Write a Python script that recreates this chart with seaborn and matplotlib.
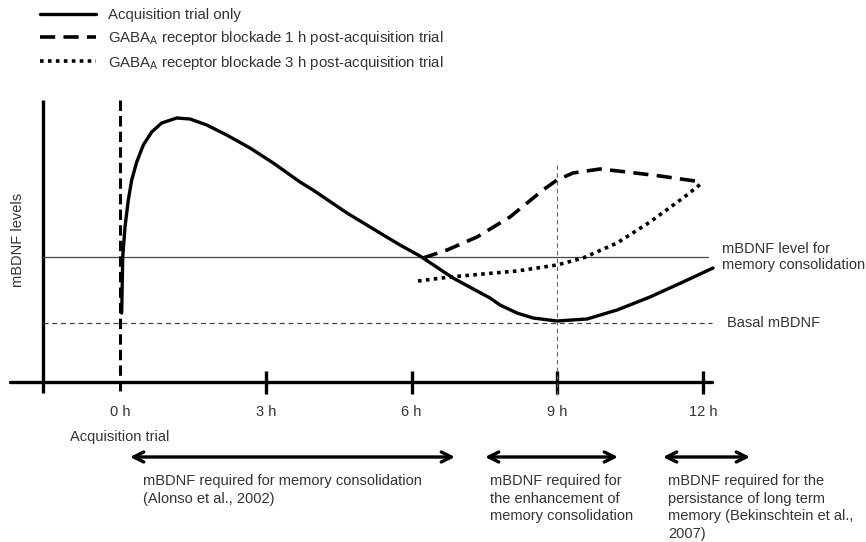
import numpy as np
import pandas as pd
import matplotlib
matplotlib.use("Agg")
import matplotlib.pyplot as plt
import seaborn as sns

# ------------------------------
# Values
# ------------------------------
# time in hours after the acquisition trial, mBDNF level in arbitrary units
acq_hours = [0.035, 0.056, 0.103, 0.171, 0.241, 0.344, 0.480, 0.652, 0.858, 1.167,
             1.441, 1.785, 2.196, 2.676, 3.155, 3.705, 3.973, 4.672, 5.352, 5.763,
             6.175, 6.854, 7.616, 7.822, 8.171, 8.501, 8.995, 9.613, 10.230, 10.909,
             11.588, 12.206]
acq_level = [69, 125, 155, 182, 202, 220, 237, 250, 259, 264,
             263, 257, 247, 234, 219, 200, 192, 169, 149, 137,
             126, 104, 84, 77, 69, 64, 61, 63, 72, 85,
             100, 114]

block1_hours = [6.237, 6.731, 7.348, 8.027, 8.706, 8.995, 9.324, 9.880, 10.436, 11.115, 11.980]
block1_level = [124, 132, 145, 165, 192, 202, 209, 213, 210, 206, 200]

block3_hours = [6.134, 6.793, 7.472, 8.171, 8.995, 9.530, 10.230, 10.909, 11.588, 11.980]
block3_level = [101, 105, 108, 111, 117, 124, 139, 160, 184, 199]

consolidation_level = 125
basal_level = 59
tick_hours = [0, 3, 6, 9, 12]
tick_labels = ["0 h", "3 h", "6 h", "9 h", "12 h"]

legend_labels = ["Acquisition trial only",
                 "GABA$_\\mathrm{A}$ receptor blockade 1 h post-acquisition trial",
                 "GABA$_\\mathrm{A}$ receptor blockade 3 h post-acquisition trial"]

# ------------------------------
# Figure setup
# ------------------------------
sns.set_theme(style="white")
plt.rcParams["font.family"] = ["Liberation Sans", "DejaVu Sans"]
plt.rcParams["mathtext.fontset"] = "custom"
plt.rcParams["mathtext.rm"] = "Liberation Sans"

W, H = 866, 542
fig = plt.figure(figsize=(W / 100, H / 100), dpi=100)
ax = fig.add_axes([0, 0, 1, 1])
px_per_h = (703 - 120) / 12
ax.set_xlim(-120 / px_per_h, (W - 120) / px_per_h)
ax.set_ylim(382 - H, 382)
ax.axis("off")

def px(x, y):
    # pixel position of the reference -> data coords
    return (x - 120) / px_per_h, 382 - y

txt = "#333333"
fs = 10.5

# axes drawn by hand
x0, _ = px(43, 0)
ax.plot([x0, x0], [282, -11], color="black", lw=2.4, solid_capstyle="butt")
ax.plot([px(10, 0)[0], px(712, 0)[0]], [0, 0], color="black", lw=2.4)
for h in tick_hours[1:]:
    ax.plot([h, h], [11, -12], color="black", lw=2.4, solid_capstyle="butt")

# reference levels
ax.plot([x0, px(708, 0)[0]], [consolidation_level] * 2, color="#444444", lw=0.9)
ax.plot([x0, px(712, 0)[0]], [basal_level] * 2, color="#444444", lw=0.9,
        linestyle=(0, (4, 3)))
ax.plot([9, 9], [217, -13], color="#666666", lw=0.8, linestyle=(0, (4, 3)))
ax.plot([0, 0], [282, -10], color="black", lw=2.2, linestyle=(0, (3.4, 1.7)))

# curves
acq = pd.DataFrame({"hours": acq_hours, "level": acq_level})
b1 = pd.DataFrame({"hours": block1_hours, "level": block1_level})
b3 = pd.DataFrame({"hours": block3_hours, "level": block3_level})
sns.lineplot(data=acq, x="hours", y="level", ax=ax, color="black", lw=2.4,
             sort=False, label=legend_labels[0])
sns.lineplot(data=b1, x="hours", y="level", ax=ax, color="black", lw=2.6,
             sort=False, label=legend_labels[1], linestyle=(0, (4.2, 2.3)))
sns.lineplot(data=b3, x="hours", y="level", ax=ax, color="black", lw=2.6,
             sort=False, label=legend_labels[2], linestyle=(0, (1, 1.2)))

leg = ax.legend(loc="upper left", bbox_to_anchor=(40 / W, 1 - 8 / H), frameon=False,
                fontsize=10.8, handlelength=3.7, handletextpad=0.85, labelspacing=0.45,
                borderpad=0, borderaxespad=0)
for t in leg.get_texts():
    t.set_color(txt)

# tick labels
for h, lab in zip(tick_hours, tick_labels):
    ax.text(h, 382 - 412, lab, ha="center", va="center", fontsize=fs, color=txt)

ax.text(*px(18, 240), "mBDNF levels", rotation=90, ha="center", va="center",
        fontsize=fs, color=txt)
ax.text(*px(722, 257), "mBDNF level for\nmemory consolidation", ha="left",
        va="center", fontsize=fs, color=txt, linespacing=1.2)
ax.text(*px(727, 323), "Basal mBDNF", ha="left", va="center", fontsize=fs, color=txt)
ax.text(*px(70, 437), "Acquisition trial", ha="left", va="center", fontsize=fs, color=txt)

# arrows
for a, b in [(130, 455), (485, 618), (663, 750)]:
    ax.annotate("", xy=px(a, 457), xytext=px(b, 457),
                arrowprops=dict(arrowstyle="<->", color="black", lw=2.4,
                                mutation_scale=18, shrinkA=0, shrinkB=0))

ax.text(*px(143, 474), "mBDNF required for memory consolidation\n(Alonso et al., 2002)",
        ha="left", va="top", fontsize=fs, color=txt, linespacing=1.32)
ax.text(*px(490, 474), "mBDNF required for\nthe enhancement of\nmemory consolidation",
        ha="left", va="top", fontsize=fs, color=txt, linespacing=1.32)
ax.text(*px(668, 474),
        "mBDNF required for the\npersistance of long term\nmemory (Bekinschtein et al.,\n2007)",
        ha="left", va="top", fontsize=fs, color=txt, linespacing=1.32)

fig.savefig("out.png", dpi=100)
